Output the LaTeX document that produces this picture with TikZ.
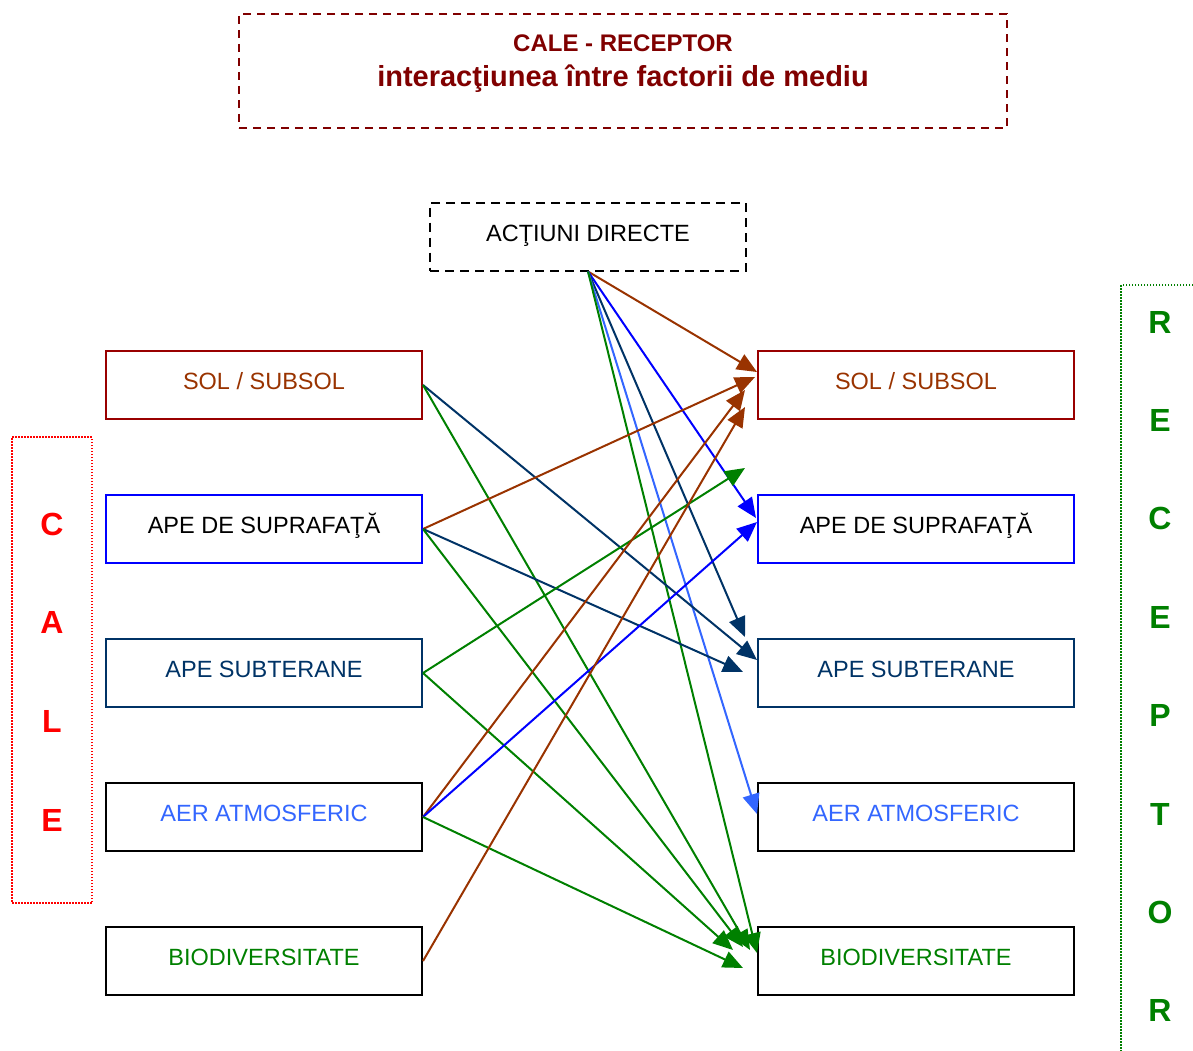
\documentclass[tikz,border=0pt]{standalone}
\usepackage{fontspec}
\setmainfont{Liberation Sans}
\usetikzlibrary{arrows.meta,positioning}

\definecolor{titlered}{RGB}{128,0,0}
\definecolor{solred}{RGB}{153,0,0}
\definecolor{brick}{RGB}{153,51,0}
\definecolor{navy}{RGB}{0,51,102}
\definecolor{lightblue}{RGB}{51,102,255}
\definecolor{leafgreen}{RGB}{0,128,0}

\begin{document}
\begin{tikzpicture}[x=1pt, y=-1pt, node distance=74pt,
	box/.style={rectangle, draw, line width=2pt, minimum width=316pt, minimum height=68pt, inner sep=0pt, font=\fontsize{23.5}{28}\selectfont, text height=17pt, text depth=8pt},
	link/.style={line width=2pt, -{Triangle[length=20pt,width=17pt]}},
	letter/.style={font=\fontsize{32}{36}\selectfont\bfseries}]
	\useasboundingbox (0,0) rectangle (1193,1051);

	% title
	\node[draw=titlered, line width=2pt, dash pattern=on 8pt off 6pt, minimum width=768pt, minimum height=114pt] (title) at (623,71) {};
	\node[text=titlered, font=\fontsize{24}{28}\selectfont\bfseries] (head) at (623,43) {CALE - RECEPTOR};
	\node[text=titlered, font=\fontsize{29}{34}\selectfont\bfseries] (subhead) at (623,79) {interacţiunea între factorii de mediu};

	\node[box, dash pattern=on 9pt off 6pt] (act) at (588,236.5) {ACŢIUNI DIRECTE};

	% pathways (left)
	\node[box, draw=solred, text=brick] (lsol) at (264,385) {SOL / SUBSOL};
	\node[box, draw=blue, below = of lsol] (lsup) {APE DE SUPRAFAŢĂ};
	\node[box, draw=navy, text=navy, below = of lsup] (lsub) {APE SUBTERANE};
	\node[box, text=lightblue, below = of lsub] (lair) {AER ATMOSFERIC};
	\node[box, text=leafgreen, below = of lair] (lbio) {BIODIVERSITATE};

	% receptors (right)
	\node[box, draw=solred, text=brick, right = 334pt of lsol] (rsol) {SOL / SUBSOL};
	\node[box, draw=blue, below = of rsol] (rsup) {APE DE SUPRAFAŢĂ};
	\node[box, draw=navy, text=navy, below = of rsup] (rsub) {APE SUBTERANE};
	\node[box, text=lightblue, below = of rsub] (rair) {AER ATMOSFERIC};
	\node[box, text=leafgreen, below = of rair] (rbio) {BIODIVERSITATE};

	% side labels
	\node[draw=red, line width=1.5pt, dash pattern=on 1.5pt off 1.5pt, minimum width=80pt, minimum height=466pt] (cale) at (52,670) {};
	\foreach \l [count=\i] in {C,A,L,E}
		\node[letter, text=red] (c\i) at (52,{524+98.7*(\i-1)}) {\l};
	\draw[leafgreen, line width=1.5pt, dash pattern=on 1.5pt off 1.5pt] (1193,285) -- (1121,285) -- (1121,1051);
	\foreach \l [count=\i] in {R,E,C,E,P,T,O,R}
		\node[letter, text=leafgreen] (r\i) at (1160,{322+98.4*(\i-1)}) {\l};

	% arrow ends
	\coordinate (actsol) at (757,372);
	\coordinate (actsup) at (756,518);
	\coordinate (actsub) at (745,637);
	\coordinate (actair) at (757,814);
	\coordinate (actbio) at (757,953);
	\coordinate (solsub) at (757,660);
	\coordinate (solbio) at (750,950);
	\coordinate (supsol) at (755,377);
	\coordinate (supsub) at (743,672);
	\coordinate (supbio) at (743,947);
	\coordinate (subsup) at (745,468);
	\coordinate (subbio) at (733,950);
	\coordinate (airsol) at (745,390);
	\coordinate (airsup) at (757,522);
	\coordinate (airbio) at (743,968);
	\coordinate (biosol) at (745,407);

	\draw[link, brick] (act.south) -- (actsol);
	\draw[link, blue] (act.south) -- (actsup);
	\draw[link, navy] (act.south) -- (actsub);
	\draw[link, lightblue] (act.south) -- (actair);
	\draw[link, leafgreen] (act.south) -- (actbio);

	\draw[link, navy] (lsol.east) -- (solsub);
	\draw[link, leafgreen] (lsol.east) -- (solbio);
	\draw[link, brick] (lsup.east) -- (supsol);
	\draw[link, navy] (lsup.east) -- (supsub);
	\draw[link, leafgreen] (lsup.east) -- (supbio);
	\draw[link, leafgreen] (lsub.east) -- (subsup);
	\draw[link, leafgreen] (lsub.east) -- (subbio);
	\draw[link, brick] (lair.east) -- (airsol);
	\draw[link, blue] (lair.east) -- (airsup);
	\draw[link, leafgreen] (lair.east) -- (airbio);
	\draw[link, brick] (lbio.east) -- (biosol);
\end{tikzpicture}
\end{document}
